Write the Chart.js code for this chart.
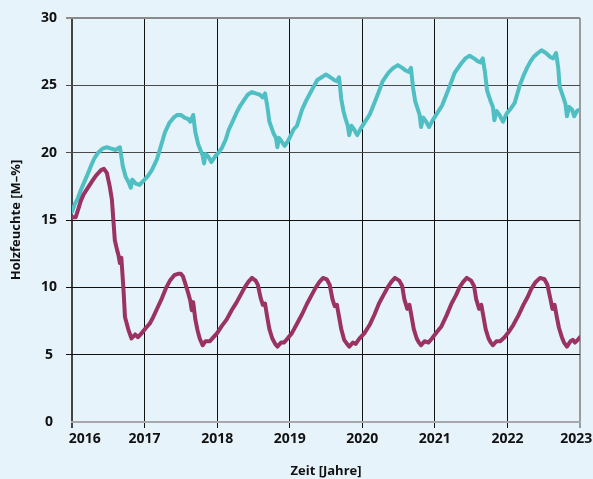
<!DOCTYPE html>
<html>
<head>
<meta charset="utf-8">
<script src="https://cdn.jsdelivr.net/npm/chart.js@4.4.1/dist/chart.umd.min.js"></script>
<style>
  html, body { margin: 0; padding: 0; background: #e7f3fb; }
  #wrap { width: 593px; height: 479px; }
</style>
</head>
<body>
<div id="wrap"><canvas id="c" width="593" height="479"></canvas></div>
<script>
// ---- data ----
const xTickValues = [2016, 2017, 2018, 2019, 2020, 2021, 2022, 2023];
const xTickLabels = ['2016', '2017', '2018', '2019', '2020', '2021', '2022', '2023'];
const yTickValues = [0, 5, 10, 15, 20, 25, 30];

const tealYears = [
  2016.00, 2016.04, 2016.08, 2016.12, 2016.16, 2016.20, 2016.26, 2016.31, 2016.36, 2016.42,
  2016.48, 2016.54, 2016.60, 2016.66, 2016.70, 2016.74, 2016.78, 2016.81, 2016.83, 2016.88,
  2016.93, 2017.00, 2017.05, 2017.10, 2017.17, 2017.22, 2017.28, 2017.34, 2017.40, 2017.45,
  2017.50, 2017.55, 2017.60, 2017.63, 2017.67, 2017.70, 2017.74, 2017.77, 2017.80, 2017.82,
  2017.84, 2017.88, 2017.92, 2017.97, 2018.02, 2018.07, 2018.12, 2018.16, 2018.22, 2018.27,
  2018.32, 2018.37, 2018.42, 2018.48, 2018.53, 2018.59, 2018.63, 2018.66, 2018.69, 2018.72,
  2018.78, 2018.81, 2018.83, 2018.85, 2018.88, 2018.93, 2018.98, 2019.05, 2019.10, 2019.17,
  2019.23, 2019.29, 2019.34, 2019.38, 2019.44, 2019.50, 2019.56, 2019.61, 2019.65, 2019.68,
  2019.71, 2019.74, 2019.77, 2019.80, 2019.82, 2019.85, 2019.89, 2019.93, 2019.98, 2020.05,
  2020.10, 2020.19, 2020.24, 2020.28, 2020.33, 2020.37, 2020.43, 2020.49, 2020.55, 2020.60,
  2020.64, 2020.67, 2020.70, 2020.73, 2020.76, 2020.79, 2020.81, 2020.84, 2020.88, 2020.92,
  2020.97, 2021.04, 2021.10, 2021.18, 2021.23, 2021.27, 2021.32, 2021.36, 2021.42, 2021.48,
  2021.54, 2021.59, 2021.63, 2021.66, 2021.69, 2021.72, 2021.77, 2021.80, 2021.82, 2021.85,
  2021.89, 2021.94, 2021.99, 2022.05, 2022.10, 2022.17, 2022.22, 2022.27, 2022.32, 2022.36,
  2022.42, 2022.47, 2022.53, 2022.59, 2022.63, 2022.67, 2022.70, 2022.72, 2022.77, 2022.80,
  2022.82, 2022.85, 2022.89, 2022.92, 2022.96, 2023.00
];
const tealValues = [
  15.6, 16.2, 16.6, 17.2, 17.7, 18.2, 19.0, 19.6, 20.0, 20.3,
  20.4, 20.3, 20.2, 20.4, 19.0, 18.2, 17.8, 17.4, 18.0, 17.7,
  17.6, 18.0, 18.3, 18.7, 19.5, 20.4, 21.5, 22.2, 22.6, 22.8,
  22.8, 22.6, 22.5, 22.3, 22.8, 21.5, 20.6, 20.2, 19.8, 19.2,
  19.9, 19.7, 19.3, 19.7, 20.0, 20.4, 21.0, 21.7, 22.4, 23.0,
  23.5, 23.9, 24.3, 24.5, 24.4, 24.3, 24.1, 24.4, 23.5, 22.3,
  21.4, 21.1, 20.4, 21.1, 20.9, 20.5, 20.9, 21.7, 22.0, 23.2,
  23.9, 24.5, 25.0, 25.4, 25.6, 25.8, 25.6, 25.4, 25.3, 25.6,
  24.0, 23.1, 22.5, 22.0, 21.3, 22.0, 21.7, 21.3, 21.8, 22.4,
  22.8, 24.0, 24.7, 25.3, 25.7, 26.0, 26.3, 26.5, 26.3, 26.1,
  26.0, 26.3, 24.8, 23.8, 23.3, 22.8, 21.9, 22.6, 22.3, 21.9,
  22.4, 23.0, 23.5, 24.6, 25.3, 25.9, 26.3, 26.6, 27.0, 27.2,
  27.0, 26.8, 26.7, 27.0, 26.0, 24.6, 23.8, 23.4, 22.4, 23.1,
  22.8, 22.3, 22.9, 23.3, 23.7, 25.0, 25.7, 26.3, 26.8, 27.1,
  27.4, 27.6, 27.4, 27.1, 27.0, 27.4, 26.3, 24.9, 24.1, 23.6,
  22.7, 23.4, 23.2, 22.7, 23.1, 23.2
];

const maroonYears = [
  2016.00, 2016.05, 2016.08, 2016.12, 2016.16, 2016.22, 2016.28, 2016.33, 2016.40, 2016.44,
  2016.48, 2016.52, 2016.55, 2016.57, 2016.59, 2016.62, 2016.64, 2016.66, 2016.68, 2016.71,
  2016.73, 2016.78, 2016.82, 2016.87, 2016.91, 2016.96, 2017.02, 2017.07, 2017.12, 2017.18,
  2017.24, 2017.30, 2017.35, 2017.41, 2017.46, 2017.50, 2017.53, 2017.56, 2017.60, 2017.63,
  2017.65, 2017.67, 2017.70, 2017.73, 2017.76, 2017.80, 2017.84, 2017.90, 2017.95, 2018.00,
  2018.06, 2018.13, 2018.20, 2018.27, 2018.32, 2018.38, 2018.43, 2018.48, 2018.53, 2018.56,
  2018.60, 2018.63, 2018.66, 2018.69, 2018.72, 2018.76, 2018.80, 2018.83, 2018.88, 2018.92,
  2018.97, 2019.03, 2019.10, 2019.17, 2019.24, 2019.30, 2019.36, 2019.41, 2019.46, 2019.51,
  2019.55, 2019.59, 2019.62, 2019.65, 2019.68, 2019.71, 2019.75, 2019.79, 2019.82, 2019.87,
  2019.91, 2019.96, 2020.03, 2020.10, 2020.17, 2020.23, 2020.29, 2020.35, 2020.40, 2020.45,
  2020.51, 2020.55, 2020.58, 2020.62, 2020.65, 2020.68, 2020.71, 2020.75, 2020.78, 2020.81,
  2020.86, 2020.91, 2020.96, 2021.03, 2021.09, 2021.16, 2021.23, 2021.29, 2021.34, 2021.39,
  2021.44, 2021.50, 2021.54, 2021.57, 2021.61, 2021.64, 2021.67, 2021.70, 2021.74, 2021.77,
  2021.80, 2021.85, 2021.90, 2021.96, 2022.02, 2022.08, 2022.15, 2022.22, 2022.28, 2022.33,
  2022.39, 2022.45, 2022.51, 2022.55, 2022.59, 2022.62, 2022.65, 2022.68, 2022.71, 2022.75,
  2022.78, 2022.82, 2022.87, 2022.90, 2022.93, 2022.97, 2023.00
];
const maroonValues = [
  15.2, 15.2, 15.7, 16.4, 16.9, 17.4, 17.9, 18.3, 18.7, 18.8,
  18.5, 17.5, 16.5, 15.0, 13.5, 12.8, 12.4, 11.8, 12.2, 9.8,
  7.8, 6.8, 6.2, 6.5, 6.3, 6.6, 7.0, 7.3, 7.8, 8.5,
  9.2, 10.0, 10.5, 10.9, 11.0, 11.0, 10.8, 10.3, 9.6, 9.0,
  8.3, 8.9, 7.6, 6.8, 6.2, 5.7, 6.0, 6.0, 6.3, 6.6,
  7.1, 7.6, 8.3, 8.9, 9.4, 10.0, 10.4, 10.7, 10.5, 10.2,
  9.2, 8.7, 8.8, 7.8, 6.9, 6.2, 5.8, 5.6, 5.9, 5.9,
  6.2, 6.6, 7.3, 8.0, 8.8, 9.4, 10.0, 10.4, 10.7, 10.6,
  10.2, 9.1, 8.6, 8.7, 7.8, 6.9, 6.1, 5.8, 5.6, 5.9,
  5.8, 6.2, 6.6, 7.2, 8.0, 8.8, 9.4, 10.0, 10.4, 10.7,
  10.5, 10.1, 9.1, 8.4, 8.7, 7.8, 6.9, 6.2, 5.9, 5.7,
  6.0, 5.9, 6.2, 6.7, 7.1, 7.9, 8.8, 9.4, 10.0, 10.4,
  10.7, 10.5, 10.1, 9.1, 8.4, 8.7, 7.8, 6.9, 6.2, 5.9,
  5.7, 6.0, 6.0, 6.3, 6.7, 7.2, 7.9, 8.7, 9.3, 9.9,
  10.4, 10.7, 10.6, 10.2, 9.2, 8.4, 8.7, 7.8, 7.0, 6.3,
  5.9, 5.6, 6.0, 6.1, 5.9, 6.1, 6.3
];

const yTitle = 'Holzfeuchte [M–%]';
const xTitle = 'Zeit [Jahre]';

// ---- chart ----
const FONT = '"Open Sans", "DejaVu Sans", sans-serif';
const toXY = (xs, ys) => xs.map((x, i) => ({ x: x, y: ys[i] }));

function yGridColor(ctx) {
  const v = ctx.tick ? ctx.tick.value : null;
  if (v === 0) return 'rgba(0,0,0,0)';
  if (v === 30) return '#8a8a8a';
  if (v === 20 || v === 25) return '#4a4a4a';
  return '#111111';
}
function xGridColor(ctx) {
  const v = ctx.tick ? ctx.tick.value : null;
  if (v === 2023) return '#9a9a9a';
  if (v === 2016) return '#444444';
  return '#111111';
}

new Chart(document.getElementById('c'), {
  type: 'line',
  data: {
    datasets: [
      {
        label: 'maroon',
        data: toXY(maroonYears, maroonValues),
        borderColor: '#9a3264',
        borderWidth: 4,
        borderJoinStyle: 'round',
        borderCapStyle: 'round',
        pointRadius: 0,
        tension: 0,
        fill: false
      },
      {
        label: 'teal',
        data: toXY(tealYears, tealValues),
        borderColor: '#4fbfc3',
        borderWidth: 4,
        borderJoinStyle: 'round',
        borderCapStyle: 'round',
        pointRadius: 0,
        tension: 0,
        fill: false
      }
    ]
  },
  options: {
    responsive: false,
    animation: false,
    devicePixelRatio: 1,
    layout: { padding: { top: 18, right: 13, bottom: 0, left: 0 } },
    plugins: { legend: { display: false }, tooltip: { enabled: false } },
    scales: {
      x: {
        type: 'linear',
        min: 2016,
        max: 2023,
        afterBuildTicks: (s) => { s.ticks = xTickValues.map(v => ({ value: v })); },
        afterFit: (s) => { s.height = 57; s.paddingLeft = 0; s.paddingRight = 0; },
        ticks: {
          autoSkip: false,
          maxRotation: 0,
          padding: 3,
          color: '#111',
          font: { family: FONT, size: 14, weight: 'bold' },
          callback: (v) => {
            const i = xTickValues.indexOf(v);
            if (i < 0) return '';
            if (i === 0) return '       ' + xTickLabels[i];
            if (i === xTickValues.length - 1) return xTickLabels[i] + '  ';
            return xTickLabels[i];
          }
        },
        grid: {
          color: xGridColor,
          lineWidth: (ctx) => (ctx.tick && (ctx.tick.value === 2023 || ctx.tick.value === 2016)) ? 2 : 1,
          tickLength: 6,
          drawOnChartArea: true
        },
        border: { display: true, color: '#a8a8a8', width: 2 },
        title: {
          display: true,
          text: xTitle,
          color: '#111',
          font: { family: FONT, size: 13, weight: 'bold' },
          padding: { top: 5, bottom: 0 }
        }
      },
      y: {
        type: 'linear',
        min: 0,
        max: 30,
        afterBuildTicks: (s) => { s.ticks = yTickValues.map(v => ({ value: v })); },
        afterFit: (s) => { s.width = 72; s.paddingTop = 0; s.paddingBottom = 0; },
        ticks: {
          padding: 9,
          crossAlign: 'center',
          color: '#111',
          font: { family: FONT, size: 14, weight: 'bold' },
          callback: (v) => String(v)
        },
        grid: {
          color: yGridColor,
          lineWidth: (ctx) => (ctx.tick && ctx.tick.value === 30) ? 2 : 1,
          tickLength: 6
        },
        border: { display: false },
        title: {
          display: true,
          text: yTitle,
          color: '#111',
          font: { family: FONT, size: 13, weight: 'bold' },
          padding: { top: 8, bottom: 0 }
        }
      }
    }
  }
});
</script>
</body>
</html>
